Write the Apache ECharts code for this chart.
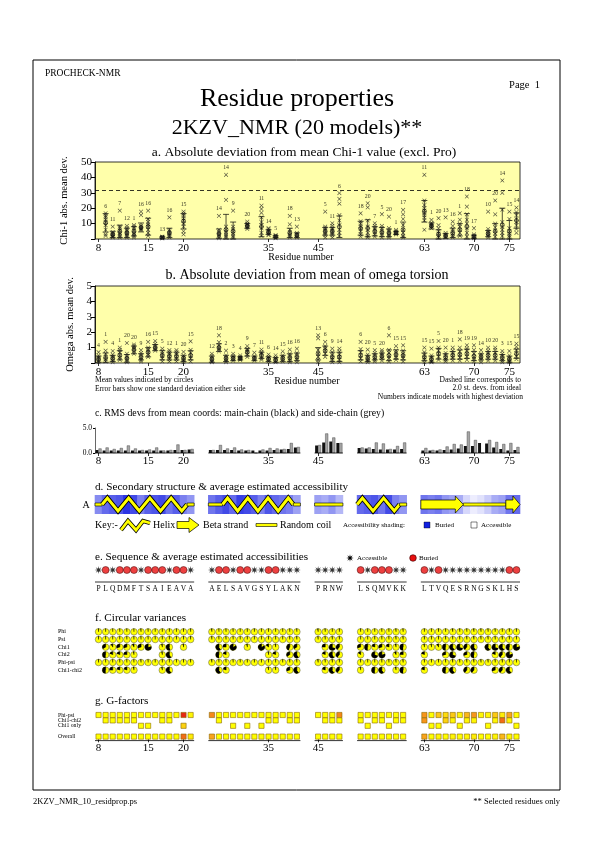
<!DOCTYPE html>
<html><head><meta charset="utf-8">
<script src="https://cdn.jsdelivr.net/npm/echarts/dist/echarts.min.js"></script>
<style>html,body{margin:0;padding:0;background:#fff}#c{width:595px;height:842px}</style>
</head><body><div id="c"></div>
<script>
// ---------------- DATA ----------------
const residues = [8,9,10,11,12,13,14,15,16,17,18,19,20,21,
  27,28,29,30,31,32,33,34,35,36,37,38,39,
  45,46,47,48,
  55,56,57,58,59,60,61,
  63,64,65,66,67,68,69,70,71,72,73,74,75,76];
const sequence = 'PLQDMFTSAIEAVA'.split('').concat('AELSAVGSYLAKN'.split(''), 'PRNW'.split(''), 'LSQMVKK'.split(''), 'LTVQESRNGSKLHS'.split(''));
const tickResidues = [8,15,20,35,45,63,70,75];

// a. Chi-1 absolute deviations
const chi1Res = [9,10,11,12,13,14,15,17,18,20,28,29,30,32,34,35,36,38,39,46,47,48,55,56,57,58,59,60,61,63,64,65,66,67,68,69,70,72,73,74,75,76];
const chi1Mean = [10.5,3,5,4,5,7.5,8,1,4,11.5, 3.5,6,5,8.5,8,4.5,1.5,4,2.5, 5,5,8, 7,7,5,4.5,4,4,6, 18,8.5,3,2,4,6,8,1.5,3.5,5,9,5,12];
const chi1Sd = [6,2,4,3,3,2.9,5.5,0.4,3,5, 3,10,6,1.5,6.5,1.5,0.6,3,1.5, 2.5,2.5,7, 4.5,5.5,3,3,2.5,1,5, 7,2,3,1.5,3,4,8.5,1,2,5,11,7,5];
const chi1MaxModel = [6,11,7,12,1,16,16,13,16,15, 14,14,9,20,11,14,5,18,13, 5,11,6, 18,20,7,5,20,1,17, 11,1,20,13,16,1,18,17,10,20,14,15,14];
const chi1Values = [
 [16.7,15,14,12.5,11,9,6,3,2],[8,4.5,3.5,3,2,1.5,1],[18.4,8,7,5.5,4,3,2,1],[8.5,7,6,5,4,3,2,1],[9,8,7,5.5,4,3,2,1],
 [17.8,15.5,8.5,7.5,7,6.5,6],[18.4,13,11,9.5,8,6,4,2],[1.5,1.2,1,0.7,0.4],[14,6,5,4,3,2,1],[17.8,16.5,15,13.5,12,10,8,5,3],
 [15,6,4.5,3.5,2.5,1.5,0.5],[41.7,25.4,8,6,4.5,3,2,1],[18.4,8,6.5,5,3.5,2,1],[11.3,10,9.5,9,8,7.5,6.5],[21.7,19.5,17,14,11,9,7,4,2],
 [7,6.5,5.5,5,4,3,2.5],[2.5,2,1.5,1,0.5],[15,9.5,6,4.5,3,2,1],[8,4,3,2.5,1.5,1],
 [17.8,8,7,6,5,4,2.5,1],[10.2,8.5,7,6,5,4,2.5,1],[29.8,26,23,15.5,12,9,6,4,2],
 [16.7,11.5,10,8,6.5,5,3,1.5],[23.2,20.5,12,8,6,4,2,1],[10.2,8.5,7,6,4.5,3,1.5],[16.1,8.5,7,5.5,4,2.5,1],[14.5,7,5.5,4.5,3,2,1],[5.9,5,4.5,4,3.5,3],[18.9,16,13,9,6,4,2,1],
 [41.7,25,22,20,18.5,17,15.5,14,12,6],[12.4,10.5,9.5,9,8.5,8,7],[13.5,9,7,5,3.5,2,1],[14,4,3,2.5,1.5,1],[11.3,8.5,6.5,5,3.5,2,1],[16.7,12.5,10,8,6,4,2],
 [27.6,21,16,12.5,10,7,4,1.5],[7,3,2,1.5,1,0.5],[17.8,6.5,5,4,3,2,1],[25,16,10,7.5,5.5,3.5,1.5],[38,30,19,11,8,6,4,2],[17.8,13,7,5,3.5,2,1],[20.4,17.5,15.5,13,11,9,6.5,4]
];
const chi1Limit = 31.5;

// b. Omega absolute deviations (one entry per residue)
const omegaMean = [.25,.35,.3,.5,.3,.85,.4,.7,1.0,.5,.45,.45,.3,.5, .25,1.0,.3,.3,.3,.7,.3,.5,.25,.2,.3,.35,.4, .6,.8,.4,.4, .5,.3,.4,.45,.5,.55,.5, .4,.25,.6,.4,.5,.55,.6,.45,.4,.5,.5,.35,.25,.6];
const omegaSd = [.2,.3,.2,.3,.25,.25,.2,.3,.2,.3,.25,.25,.2,.3, .2,.25,.2,.15,.1,.25,.15,.2,.15,.15,.2,.25,.25, .4,.3,.3,.3, .3,.2,.2,.2,.35,.3,.3, .25,.2,.35,.2,.25,.3,.3,.3,.2,.25,.25,.2,.2,.3];
const omegaMaxModel = [4,1,4,1,20,20,9,16,15,5,12,1,20,15, 12,18,2,3,4,9,7,11,6,14,15,16,16, 13,6,9,14, 6,20,5,20,6,15,15, 15,15,5,20,1,18,19,19,14,10,20,3,15,15];
const omegaValues = [
 [0.7,0.5,0.35,0.25,0.15,0.05],[1.37,0.8,0.6,0.4,0.25,0.1],[0.78,0.55,0.4,0.3,0.15,0.05],[1.0,0.85,0.7,0.5,0.35,0.2],[1.3,0.6,0.45,0.3,0.2,0.05],
 [1.2,1.1,1.0,0.9,0.75,0.6],[0.83,0.65,0.5,0.35,0.2,0.1],[1.37,1.0,0.85,0.7,0.55,0.4],[1.43,1.25,1.1,1.0,0.9,0.8],[0.93,0.75,0.6,0.45,0.3,0.1],
 [0.83,0.7,0.55,0.4,0.25,0.1],[0.83,0.7,0.55,0.4,0.25,0.1],[0.72,0.5,0.35,0.25,0.15,0.05],[1.41,0.85,0.65,0.45,0.3,0.1],
 [0.6,0.45,0.3,0.2,0.1,0.05],[1.8,1.35,1.15,1.0,0.9,0.75],[0.8,0.5,0.35,0.25,0.15,0.05],[0.6,0.45,0.35,0.25,0.15],[0.5,0.4,0.35,0.3,0.25,0.2],
 [1.1,0.9,0.8,0.7,0.55,0.4],[0.67,0.45,0.35,0.25,0.15],[0.87,0.7,0.6,0.45,0.3,0.2],[0.55,0.4,0.3,0.2,0.1],[0.5,0.35,0.25,0.15,0.05],
 [0.76,0.5,0.35,0.25,0.1],[0.87,0.6,0.45,0.3,0.15,0.05],[0.93,0.65,0.5,0.35,0.2,0.05],
 [1.8,1.6,0.85,0.6,0.4,0.2,0.05],[1.37,1.1,0.95,0.8,0.6,0.4],[0.93,0.7,0.5,0.35,0.2,0.05],[0.93,0.75,0.55,0.4,0.2,0.05],
 [1.37,0.9,0.7,0.5,0.3,0.1],[0.87,0.55,0.35,0.25,0.15,0.05],[0.83,0.65,0.5,0.35,0.2,0.1],[0.83,0.7,0.55,0.45,0.3,0.15],[1.8,0.85,0.65,0.45,0.3,0.1],[1.1,0.8,0.65,0.5,0.35,0.2],[1.15,0.8,0.6,0.45,0.3,0.1],
 [1.0,0.7,0.5,0.35,0.2,0.05],[0.93,0.5,0.35,0.2,0.1,0.05],[1.43,1.0,0.8,0.6,0.4,0.2],[1.0,0.65,0.5,0.35,0.2,0.1],[1.0,0.8,0.65,0.5,0.35,0.15],[1.54,1.0,0.75,0.55,0.35,0.15],
 [1.15,0.95,0.8,0.6,0.4,0.2],[1.15,0.85,0.6,0.4,0.25,0.1],[0.83,0.6,0.45,0.35,0.2,0.05],[1.0,0.8,0.65,0.5,0.3,0.15],[1.0,0.85,0.65,0.5,0.3,0.15],[0.78,0.6,0.45,0.3,0.15,0.05],[0.78,0.5,0.3,0.2,0.1,0.05],[1.26,1.05,0.85,0.65,0.45,0.25]
];

// c. RMS deviations
const rmsMain = [0.6,0.5,0.5,0.5,0.5,0.5,0.5,0.5,0.5,0.5,0.5,0.6,0.6,0.7, 0.6,0.6,0.6,0.6,0.5,0.5,0.5,0.5,0.5,0.6,0.7,0.8,1.1, 1.5,2.1,2.3,2.0, 1.0,0.9,0.8,0.7,0.7,0.7,0.8, 0.5,0.5,0.5,0.6,0.7,0.9,1.4,1.4,2.0,1.9,1.1,0.8,0.5,0.6];
const rmsSide = [0.9,1.1,0.8,1.0,1.5,0.9,0.6,0.7,1.1,0.5,0.6,1.7,0.6,0.8, 0.6,1.6,0.9,1.1,0.7,0.6,null,0.7,1.0,0.9,0.8,2.0,1.2, 1.6,3.9,3.1,2.0, 1.1,1.1,2.1,1.9,0.8,1.4,2.1, 1.0,0.6,0.7,1.3,1.8,1.7,4.3,2.6,null,2.6,2.2,1.8,2.0,1.2];

// d. Secondary structure and accessibility (0 = buried, 1 = accessible)
const secStruct = ('CHHHHHHHHHHHHC' + 'CCHHHHHHHHHHC' + 'CCCC' + 'HHHHHHC' + 'EEEEEECCCCCCEE').split('');
const accessibility = [0.5,0.35,0.3,0.25,0.1,0.2,0.45,0.3,0.25,0.2,0.4,0.3,0.45,0.55,
  0.4,0.3,0.2,0.35,0.15,0.2,0.3,0.45,0.25,0.35,0.4,0.45,0.6,
  0.6,0.65,0.55,0.7,
  0.35,0.3,0.25,0.4,0.2,0.45,0.55,
  0.4,0.45,0.4,0.55,0.6,0.65,0.85,0.95,0.9,0.8,0.65,0.6,0.4,0.35];

// e. Buried (1) / accessible (0)
const buried = [0,1,0,1,1,1,0,1,1,1,0,1,1,0, 0,1,1,0,1,1,0,0,1,1,0,0,0, 0,0,0,0, 1,0,1,1,1,0,0, 1,0,1,0,0,0,0,0,0,0,0,0,1,1];

// f. Circular variances
const cvRows = ['Phi','Psi','Chi1','Chi2','Phi-psi','Chi1-chi2'];
const cvPhi = [.03,.02,.02,.02,.02,.02,.03,.02,.02,.02,.02,.02,.03,.03, .04,.02,.02,.02,.02,.02,.03,.02,.02,.02,.02,.02,.03, .04,.03,.02,.03, .03,.02,.02,.02,.02,.03,.03, .03,.02,.03,.02,.05,.03,.03,.04,.03,.03,.03,.02,.03,.03];
const cvPsi = [.03,.02,.02,.02,.02,.02,.02,.02,.02,.02,.02,.03,.03,.03, .03,.02,.02,.02,.02,.02,.02,.02,.02,.02,.02,.03,.03, .03,.03,.03,.03, .02,.02,.02,.02,.02,.03,.03, .03,.03,.03,.03,.03,.03,.03,.04,.03,.03,.03,.03,.03,.03];
const cvChi1 = [null,0.35,0.1,0.3,0.3,0.1,0.3,0.8,null,0.05,0.55,null,0.05,null,
  null,0.6,0.25,0.85,null,0.05,null,0.85,0.15,0.05,null,0.45,0.35,
  null,0.25,0.7,0.4,
  0.3,0.5,0.2,0.3,0.2,0.05,0.5,
  0.05,0.05,0.1,0.5,0.6,0.7,0.4,0.6,null,0.6,0.7,0.6,0.5,0.8];
const cvChi2 = [null,0.5,0.2,0.2,0.25,0.05,null,null,null,0.05,0.6,null,null,null,
  null,0.5,0.2,null,null,null,null,null,0.05,0.2,null,0.35,0.6,
  null,0.2,0.6,0.4,
  0.15,null,0.7,0.8,null,0.1,0.25,
  0.2,null,null,0.3,0.7,null,0.3,0.5,null,null,0.2,0.4,0.8,null];
const cvPhiPsi = [.03,.02,.02,.02,.02,.02,.03,.02,.02,.02,.02,.03,.03,.03, .04,.02,.02,.02,.02,.02,.03,.02,.02,.02,.02,.03,.03, .04,.03,.03,.03, .03,.02,.02,.02,.02,.03,.03, .03,.03,.03,.03,.04,.03,.03,.04,.03,.03,.03,.03,.03,.03];
const cvChi12 = [null,0.5,0.25,0.2,0.2,0.05,null,null,null,0.05,0.6,null,null,null,
  null,0.6,0.2,null,null,null,null,null,0.05,0.05,null,0.3,0.6,
  null,0.2,0.6,0.4,
  0.05,null,0.5,0.6,null,0.05,0.5,
  0.2,null,null,0.5,0.6,null,0.4,0.4,null,null,0.3,0.4,0.6,null];

// g. G-factors
const gRows = ['Phi-psi','Chi1-chi2','Chi1 only','','Overall'];
const gPhiPsi = [0.3,0.3,0.3,0.3,0.3,0.3,0.3,0.3,0.3,0.3,0.3,0.3,-1.6,0.2,
  -0.9,0.3,0.3,0.3,0.3,0.3,0.3,0.3,0.3,0.3,0.3,0.3,0.3,
  0.3,0.3,0.3,-0.9,
  0.3,0.3,0.3,0.3,0.3,0.3,0.3,
  -0.8,0.3,-0.3,-0.1,-0.3,0.2,-0.5,-0.8,0.2,0.2,-0.3,0.1,-0.7,0.3];
const gChi12 = [null,0.3,0.3,0.3,0.3,0.3,null,null,null,0.3,0.3,null,null,null,
  null,0.3,null,null,null,null,null,null,0.3,0.3,null,0.3,0.3,
  null,0.3,0.3,0.3,
  0.3,null,0.3,0.3,null,0.3,0.3,
  -0.8,null,null,-0.2,0.2,null,0.2,0.2,null,null,0.2,-1.1,0.2,null];
const gChi1Only = [null,null,null,null,null,null,0.3,0.3,null,null,null,null,-0.2,null,
  null,null,null,0.3,null,0.3,null,0.3,null,null,null,null,null,
  null,null,null,null,
  null,0.3,null,null,0.3,null,null,
  null,0.3,0.3,null,null,0.3,null,null,null,0.3,null,null,null,0.3];
const gOverall = [0.3,0.3,0.3,0.3,0.3,0.3,0.3,0.3,0.3,0.3,0.3,0.3,-1.1,0.1,
  -0.7,0.3,0.3,0.3,0.3,0.3,0.3,0.3,0.3,0.3,0.3,0.3,0.3,
  0.3,0.3,0.3,0.3,
  0.3,0.3,0.3,0.3,0.3,0.3,0.3,
  -0.7,0.3,0.2,0.3,0.2,0.3,0.2,0.1,0.3,0.3,0.2,-0.5,0.2,0.3];

// ---------------- LAYOUT / HELPERS ----------------
const FONT = '"Liberation Serif","Times New Roman",serif';
const slotOf = []; let sCount = 0;
residues.forEach((r,i)=>{ if(i>0 && r!==residues[i-1]+1) sCount+=2; slotOf.push(sCount); sCount++; });
const N = sCount;
const slotRes = new Array(N).fill(null); residues.forEach((r,i)=> slotRes[slotOf[i]] = r);
const slotLetter = new Array(N).fill(''); residues.forEach((r,i)=> slotLetter[slotOf[i]] = sequence[i]);
const cats = slotRes.map((r,i)=> r===null ? 'gap'+i : String(r));
const segs = [];
residues.forEach((r,i)=>{ if(i===0 || r!==residues[i-1]+1) segs.push([slotOf[i],slotOf[i]]); else segs[segs.length-1][1]=slotOf[i]; });
const slotFor = r => slotOf[residues.indexOf(r)];

function xAx(gi, extra){ return Object.assign({gridIndex:gi, type:'category', data:cats, boundaryGap:true,
  axisLine:{show:false}, axisTick:{show:false}, axisLabel:{show:false}, splitLine:{show:false}}, extra||{}); }
const numLabel = {show:true, interval:0, margin:4, fontFamily:FONT, fontSize:11, color:'#000',
  formatter:(v,i)=> tickResidues.includes(slotRes[i]) ? String(slotRes[i]) : ''};
const numTick = {show:true, alignWithLabel:true, length:3, interval:(i)=> tickResidues.includes(slotRes[i]), lineStyle:{color:'#000', width:0.8}};
function yHidden(gi, min, max){ return {gridIndex:gi, type:'value', min, max, show:false, splitLine:{show:false}}; }

const crossPath = 'path://M1,0L5,4L9,0L10,1L6,5L10,9L9,10L5,6L1,10L0,9L4,5L0,1Z';
function starPath(){ let d=''; for(let k=0;k<16;k++){ const a=-Math.PI/2+k*Math.PI/8; const rad=k%2===0?10:3.5; d+=(k===0?'M':'L')+(10+rad*Math.cos(a)).toFixed(2)+','+(10+rad*Math.sin(a)).toFixed(2);} return 'path://'+d+'Z'; }
function starPts(cx,cy,R,r){ const p=[]; for(let k=0;k<16;k++){ const a=-Math.PI/2+k*Math.PI/8; const rad=k%2===0?R:r; p.push([cx+rad*Math.cos(a), cy+rad*Math.sin(a)]);} return p; }

function errRender(params, api){
  const x=api.value(0), lo=api.value(1), hi=api.value(2);
  const p1=api.coord([x,lo]), p2=api.coord([x,hi]); const w=3;
  const st={stroke:'#000', lineWidth:0.7};
  return {type:'group', children:[
    {type:'line', shape:{x1:p1[0],y1:p1[1],x2:p2[0],y2:p2[1]}, style:st},
    {type:'line', shape:{x1:p1[0]-w,y1:p1[1],x2:p1[0]+w,y2:p1[1]}, style:st},
    {type:'line', shape:{x1:p2[0]-w,y1:p2[1],x2:p2[0]+w,y2:p2[1]}, style:st}]};
}
function baseRender(params, api){
  const a=api.value(0), b=api.value(1); const bw=api.size([1,0])[0];
  const p=api.coord([a,0]), q=api.coord([b,0]);
  return {type:'line', shape:{x1:p[0]-bw/2, y1:p[1], x2:q[0]+bw/2, y2:p[1]}, style:{stroke:'#000', lineWidth:0.8}};
}
function shadeColor(v){ const c0=[20,30,225], c1=[248,248,255];
  const c=c0.map((x,k)=>Math.round(x+(c1[k]-x)*v)); return 'rgb('+c.join(',')+')'; }
function shadeRender(params, api){
  const x=api.value(0), v=api.value(1); const bw=api.size([1,0])[0];
  const t=api.coord([x,1]), b=api.coord([x,0]);
  return {type:'rect', shape:{x:t[0]-bw/2-0.3, y:t[1], width:bw+0.6, height:b[1]-t[1]}, style:{fill:shadeColor(v)}};
}
function ssRender(params, api){
  const a=api.value(0), b=api.value(1), t=api.value(2);
  const bw=api.size([1,0])[0];
  const p=api.coord([a,0.5]);
  const x1=p[0]-bw/2, x2=api.coord([b,0.5])[0]+bw/2, ym=p[1];
  const top=api.coord([a,1])[1], bot=api.coord([a,0])[1];
  if(t===0) return {type:'rect', shape:{x:x1, y:ym-1.5, width:x2-x1, height:3}, style:{fill:'#ffff00', stroke:'#000', lineWidth:0.6}};
  if(t===2){ const hl=Math.min(8,(x2-x1)/2), bh=4.5, hh=8.5;
    return {type:'polygon', shape:{points:[[x1,ym-bh],[x2-hl,ym-bh],[x2-hl,ym-hh],[x2,ym],[x2-hl,ym+hh],[x2-hl,ym+bh],[x1,ym+bh]]}, style:{fill:'#ffff00', stroke:'#000', lineWidth:0.7}}; }
  const n=Math.max(2, Math.round((x2-x1)/(1.5*bw)));
  const pts=[[x1,ym]];
  for(let k=0;k<n;k++) pts.push([x1+(k+0.5)*(x2-x1)/n, k%2===0 ? top+3 : bot-3]);
  pts.push([x2,ym]);
  return {type:'group', children:[
    {type:'polyline', shape:{points:pts}, style:{stroke:'#000', lineWidth:4.6, fill:null}},
    {type:'polyline', shape:{points:pts}, style:{stroke:'#ffff00', lineWidth:3, fill:null}}]};
}
function cvRender(params, api){
  const c=api.coord([api.value(0), api.value(1)]); const v=api.value(2); const r=3.3;
  const ch=[{type:'circle', shape:{cx:c[0],cy:c[1],r}, style:{fill:'#ffff00', stroke:'#555', lineWidth:0.5}}];
  if(v>0.005) ch.push({type:'sector', shape:{cx:c[0],cy:c[1],r0:0,r,startAngle:-Math.PI/2-2*Math.PI*Math.min(v,0.999), endAngle:-Math.PI/2, clockwise:true}, style:{fill:'#000'}});
  ch.push({type:'line', shape:{x1:c[0],y1:c[1],x2:c[0],y2:c[1]-r}, style:{stroke:'#000', lineWidth:0.6}});
  return {type:'group', children:ch};
}
function gColor(g){
  const t=Math.max(0, Math.min(1, (0.3-g)/1.9));
  const stops=[[255,255,0],[250,170,30],[230,40,20]];
  const s=t<0.5?0:1, f=t<0.5?t/0.5:(t-0.5)/0.5;
  const c=stops[s].map((x,k)=>Math.round(x+(stops[s+1][k]-x)*f));
  return 'rgb('+c.join(',')+')';
}
function gRender(params, api){
  const c=api.coord([api.value(0), api.value(1)]); const g=api.value(2); const s=5.2;
  return {type:'rect', shape:{x:c[0]-s/2, y:c[1]-s/2, width:s, height:s}, style:{fill:gColor(g), stroke:'#8a6a00', lineWidth:0.6}};
}

// ---------------- SERIES DATA ----------------
const chi1Cross=[], chi1Top=[], chi1MeanPts=[], chi1Err=[];
chi1Res.forEach((r,i)=>{ const x=slotFor(r);
  chi1Values[i].forEach((v,j)=>{ if(j===0) chi1Top.push([x,v,chi1MaxModel[i]]); else chi1Cross.push([x,v]); });
  chi1MeanPts.push([x,chi1Mean[i]]);
  chi1Err.push([x, Math.max(0,chi1Mean[i]-chi1Sd[i]), chi1Mean[i]+chi1Sd[i]]);
});
const omCross=[], omTop=[], omMeanPts=[], omErr=[];
residues.forEach((r,i)=>{ const x=slotOf[i];
  omegaValues[i].forEach((v,j)=>{ if(j===0) omTop.push([x,v,omegaMaxModel[i]]); else omCross.push([x,v]); });
  omMeanPts.push([x,omegaMean[i]]);
  omErr.push([x, Math.max(0,omegaMean[i]-omegaSd[i]), omegaMean[i]+omegaSd[i]]);
});
const mainBars = residues.map((r,i)=>[slotOf[i], rmsMain[i]]);
const sideBars = residues.map((r,i)=>[slotOf[i], rmsSide[i]===null?0:rmsSide[i]]);
const shadeData = residues.map((r,i)=>[slotOf[i], accessibility[i]]);
const ssData = [];
residues.forEach((r,i)=>{ const code = secStruct[i]==='H'?1:(secStruct[i]==='E'?2:0);
  if(i>0 && r===residues[i-1]+1 && secStruct[i]===secStruct[i-1]) ssData[ssData.length-1][1]=slotOf[i];
  else ssData.push([slotOf[i], slotOf[i], code]); });
const buriedPts = [], accessPts = [];
residues.forEach((r,i)=>{ (buried[i]?buriedPts:accessPts).push([slotOf[i],0.5]); });
const cvData = [];
[cvPhi,cvPsi,cvChi1,cvChi2,cvPhiPsi,cvChi12].forEach((arr,row)=> arr.forEach((v,i)=>{ if(v!==null) cvData.push([slotOf[i],row,v]); }));
const gData = [];
[[gPhiPsi,0],[gChi12,1],[gChi1Only,2],[gOverall,4]].forEach(([arr,row])=> arr.forEach((v,i)=>{ if(v!==null) gData.push([slotOf[i],row,v]); }));

// ---------------- OPTION ----------------
const gridBase = {left:95, width:425, containLabel:false};
const grids = [
  Object.assign({top:162, height:77, show:true, backgroundColor:'#ffffaa', borderColor:'#000', borderWidth:0.8}, gridBase),
  Object.assign({top:286, height:77, show:true, backgroundColor:'#ffffaa', borderColor:'#000', borderWidth:0.8}, gridBase),
  Object.assign({top:428, height:25}, gridBase),
  Object.assign({top:495, height:19}, gridBase),
  Object.assign({top:558, height:24}, gridBase),
  Object.assign({top:628, height:46}, gridBase),
  Object.assign({top:712.3, height:27}, gridBase)
];
const yLabel = {fontFamily:FONT, fontSize:11, color:'#000', margin:3};
const yAxes = [
  {gridIndex:0, type:'value', min:0, max:50, interval:10, splitLine:{show:false},
   axisLine:{show:true, lineStyle:{color:'#000', width:0.8}}, axisTick:{show:true, length:4, lineStyle:{color:'#000'}},
   axisLabel:Object.assign({formatter:v=>v===0?'':String(v)}, yLabel),
   name:'Chi-1 abs. mean dev.', nameLocation:'middle', nameGap:20, nameTextStyle:{fontFamily:FONT, fontSize:10.5, color:'#000'}},
  {gridIndex:1, type:'value', min:0, max:5, interval:1, splitLine:{show:false},
   axisLine:{show:true, lineStyle:{color:'#000', width:0.8}}, axisTick:{show:true, length:4, lineStyle:{color:'#000'}},
   axisLabel:Object.assign({formatter:v=>v===0?'':String(v)}, yLabel),
   name:'Omega abs. mean dev.', nameLocation:'middle', nameGap:17, nameTextStyle:{fontFamily:FONT, fontSize:10.5, color:'#000'}},
  {gridIndex:2, type:'value', min:0, max:5, interval:5, splitLine:{show:false},
   axisLine:{show:true, lineStyle:{color:'#000', width:0.6}}, axisTick:{show:true, length:2, lineStyle:{color:'#000'}},
   axisLabel:{formatter:v=>v.toFixed(1), fontFamily:FONT, fontSize:7.5, color:'#000', margin:3}},
  yHidden(3,0,1),
  yHidden(4,0,1),
  {gridIndex:5, type:'category', data:cvRows, inverse:true, axisLine:{show:false}, axisTick:{show:false}, splitLine:{show:false},
   axisLabel:{interval:0, align:'left', margin:37, fontFamily:FONT, fontSize:6, color:'#000'}},
  {gridIndex:6, type:'category', data:gRows, inverse:true, axisLine:{show:false}, axisTick:{show:false}, splitLine:{show:false},
   axisLabel:{interval:0, align:'left', margin:37, fontFamily:FONT, fontSize:5.8, color:'#000'}}
];
const xAxes = [
  xAx(0,{axisTick:numTick, axisLabel:numLabel}),
  xAx(1,{axisTick:numTick, axisLabel:numLabel}),
  xAx(2,{axisTick:numTick, axisLabel:Object.assign({}, numLabel, {margin:3})}),
  xAx(3),
  xAx(4,{axisLabel:{show:true, interval:0, margin:3, fontFamily:FONT, fontSize:7.5, color:'#000', formatter:(v,i)=>slotLetter[i]}}),
  xAx(5),
  xAx(6,{axisTick:numTick, axisLabel:Object.assign({}, numLabel, {margin:3})})
];

const crossSeries = (xi, data) => ({type:'scatter', xAxisIndex:xi, yAxisIndex:xi, data, symbol:crossPath, symbolSize:4.2, itemStyle:{color:'#1a1a1a'}, z:3, silent:true});
const topSeries = (xi, data) => ({type:'scatter', xAxisIndex:xi, yAxisIndex:xi, data, symbol:crossPath, symbolSize:4.2, itemStyle:{color:'#1a1a1a'}, z:3, silent:true,
  label:{show:true, position:'top', distance:2, formatter:p=>String(p.value[2]), fontFamily:FONT, fontSize:5.8, color:'#000'}});
const meanSeries = (xi, data) => ({type:'scatter', xAxisIndex:xi, yAxisIndex:xi, data, symbol:'circle', symbolSize:4, itemStyle:{color:'rgba(255,255,255,0)', borderColor:'#000', borderWidth:0.7}, z:4, silent:true});
const errSeries = (xi, data) => ({type:'custom', xAxisIndex:xi, yAxisIndex:xi, data, renderItem:errRender, encode:{x:0,y:[1,2]}, z:2, silent:true});

const series = [
  errSeries(0, chi1Err),
  Object.assign(crossSeries(0, chi1Cross), {markLine:{silent:true, symbol:'none', label:{show:false}, lineStyle:{type:[4,3], color:'#000', width:0.8}, data:[{yAxis:chi1Limit}]}}),
  topSeries(0, chi1Top),
  meanSeries(0, chi1MeanPts),
  errSeries(1, omErr),
  crossSeries(1, omCross),
  topSeries(1, omTop),
  meanSeries(1, omMeanPts),
  {type:'bar', xAxisIndex:2, yAxisIndex:2, data:mainBars, barWidth:3, barGap:'0%', itemStyle:{color:'#111'}, silent:true},
  {type:'bar', xAxisIndex:2, yAxisIndex:2, data:sideBars, barWidth:3, barGap:'0%', itemStyle:{color:'#a6a6a6', borderColor:'#333', borderWidth:0.4}, silent:true},
  {type:'custom', xAxisIndex:2, yAxisIndex:2, data:segs, renderItem:baseRender, z:5, silent:true},
  {type:'custom', xAxisIndex:3, yAxisIndex:3, data:shadeData, renderItem:shadeRender, z:1, silent:true},
  {type:'custom', xAxisIndex:3, yAxisIndex:3, data:ssData, renderItem:ssRender, z:3, silent:true},
  {type:'scatter', xAxisIndex:4, yAxisIndex:4, data:buriedPts, symbol:'circle', symbolSize:7, itemStyle:{color:'#e81010', borderColor:'#300', borderWidth:0.6}, silent:true},
  {type:'scatter', xAxisIndex:4, yAxisIndex:4, data:accessPts, symbol:starPath(), symbolSize:8, itemStyle:{color:'#000'}, silent:true},
  {type:'custom', xAxisIndex:4, yAxisIndex:4, data:segs, renderItem:baseRender, silent:true},
  {type:'custom', xAxisIndex:5, yAxisIndex:5, data:cvData, renderItem:cvRender, encode:{x:0,y:1}, silent:true},
  {type:'custom', xAxisIndex:6, yAxisIndex:6, data:gData, renderItem:gRender, encode:{x:0,y:1}, silent:true},
  {type:'custom', xAxisIndex:6, yAxisIndex:6, data:segs.map(s=>[s[0],s[1],4]), renderItem:(p,api)=>{
      const a=api.value(0), b=api.value(1); const bw=api.size([1,0])[0];
      const y=api.coord([a,4])[1]+4; const x1=api.coord([a,4])[0]-bw/2, x2=api.coord([b,4])[0]+bw/2;
      return {type:'line', shape:{x1,y1:y,x2,y2:y}, style:{stroke:'#000', lineWidth:0.8}}; }, silent:true}
];

function txt(text, x, y, size, align, extra){ return Object.assign({type:'text', silent:true, style:{text, x, y, font:size+'px '+FONT, fill:'#000', textAlign:align||'left', textVerticalAlign:'middle'}}, extra||{}); }
const helixIcon = [[121,530],[128,521],[136,530],[143,521],[150,523]];
const graphic = [
  {type:'rect', silent:true, shape:{x:33, y:60, width:527, height:730}, style:{fill:null, stroke:'#000', lineWidth:1}},
  txt('PROCHECK-NMR', 45, 73, 9.5),
  txt('Page  1', 540, 85, 10.5, 'right'),
  txt('Residue properties', 297, 99, 26, 'center'),
  txt('2KZV_NMR (20 models)**', 297, 128, 22, 'center'),
  txt('a. Absolute deviation from mean Chi-1 value (excl. Pro)', 304, 152, 13.5, 'center'),
  txt('Residue number', 301, 257, 10, 'center'),
  txt('b. Absolute deviation from mean of omega torsion', 307, 275, 14, 'center'),
  txt('Residue number', 307, 381, 10, 'center'),
  txt('Mean values indicated by circles', 95, 380, 7.5),
  txt('Error bars show one standard deviation either side', 95, 389, 7.5),
  txt('Dashed line corresponds to', 521, 380, 7.5, 'right'),
  txt('2.0 st. devs. from ideal', 521, 388, 7.5, 'right'),
  txt('Numbers indicate models with highest deviation', 523, 397, 7.5, 'right'),
  txt('c. RMS devs from mean coords: main-chain (black) and side-chain (grey)', 95, 413, 9.8),
  txt('d. Secondary structure & average estimated accessibility', 95, 487, 11.2),
  txt('A', 86, 505, 10, 'center'),
  txt('Key:-', 95, 525, 10),
  {type:'polyline', silent:true, shape:{points:helixIcon}, style:{stroke:'#000', lineWidth:4.4, fill:null}},
  {type:'polyline', silent:true, shape:{points:helixIcon}, style:{stroke:'#ffff00', lineWidth:2.8, fill:null}},
  txt('Helix', 153, 525, 10),
  {type:'polygon', silent:true, shape:{points:[[177,521.5],[189,521.5],[189,517.5],[199,525],[189,532.5],[189,528.5],[177,528.5]]}, style:{fill:'#ffff00', stroke:'#000', lineWidth:0.7}},
  txt('Beta strand', 203, 525, 10),
  {type:'rect', silent:true, shape:{x:256, y:523.5, width:21, height:3}, style:{fill:'#ffff00', stroke:'#000', lineWidth:0.6}},
  txt('Random coil', 280, 525, 10),
  txt('Accessibility shading:', 343, 525, 7),
  {type:'rect', silent:true, shape:{x:424, y:522, width:6, height:6}, style:{fill:'#1020e0', stroke:'#000', lineWidth:0.4}},
  txt('Buried', 435, 525, 7),
  {type:'rect', silent:true, shape:{x:471, y:522, width:6, height:6}, style:{fill:'#fff', stroke:'#000', lineWidth:0.5}},
  txt('Accessible', 481, 525, 7),
  txt('e. Sequence & average estimated accessibilities', 95, 557, 11.2),
  {type:'polygon', silent:true, shape:{points:starPts(350,558,3.8,1.4)}, style:{fill:'#000'}},
  txt('Accessible', 357, 558, 7),
  {type:'circle', silent:true, shape:{cx:413, cy:558, r:3.3}, style:{fill:'#e81010', stroke:'#300', lineWidth:0.6}},
  txt('Buried', 419, 558, 7),
  txt('f. Circular variances', 95, 618, 11.2),
  txt('g. G-factors', 95, 701, 11.2),
  txt('2KZV_NMR_10_residprop.ps', 33, 802, 8.5),
  txt('** Selected residues only', 560, 802, 8.5, 'right')
];

const chart = echarts.init(document.getElementById('c'), null, {renderer:'canvas'});
chart.setOption({animation:false, backgroundColor:'#fff', grid:grids, xAxis:xAxes, yAxis:yAxes, series, graphic});
</script></body></html>
